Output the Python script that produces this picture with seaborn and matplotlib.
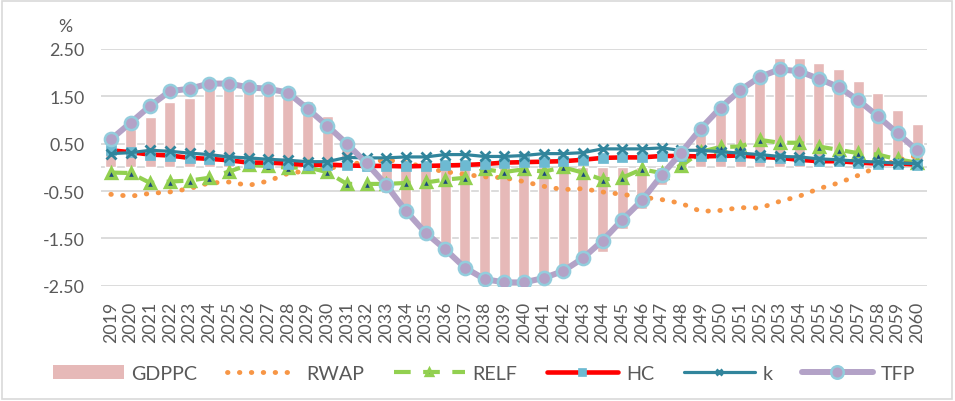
import numpy as np
import pandas as pd
import matplotlib
matplotlib.use("Agg")
import matplotlib.pyplot as plt
from matplotlib.patches import Patch, Rectangle
import seaborn as sns

years = [str(y) for y in range(2019, 2061)]

gdppc = [0.45, 0.80, 1.06, 1.38, 1.46, 1.70, 1.70, 1.62, 1.55, 1.47,
         1.40, 1.08, 0.40, 0.05, -0.55, -0.85, -1.30, -1.65, -2.03, -2.32,
         -2.39, -2.32, -2.28, -2.12, -1.85, -1.78, -1.30, -0.88, -0.38, 0.10,
         0.75, 1.15, 1.55, 1.87, 2.30, 2.32, 2.21, 2.08, 1.82, 1.56,
         1.21, 0.91]
rwap = [-0.57, -0.61, -0.55, -0.52, -0.45, -0.33, -0.31, -0.38, -0.29, -0.13,
        -0.07, -0.03, 0.05, 0.12, 0.15, 0.12, -0.02, -0.09, -0.15, -0.20,
        -0.22, -0.30, -0.40, -0.47, -0.45, -0.52, -0.57, -0.63, -0.68, -0.76,
        -0.93, -0.91, -0.85, -0.86, -0.72, -0.61, -0.45, -0.33, -0.17, 0.01,
        0.15, 0.25]
relf = [-0.11, -0.12, -0.33, -0.30, -0.28, -0.22, -0.09, 0.05, 0.03, -0.01,
        0.00, -0.10, -0.35, -0.35, -0.35, -0.33, -0.32, -0.26, -0.22, -0.04,
        -0.10, -0.04, -0.09, 0.00, -0.11, -0.26, -0.22, -0.04, -0.12, 0.03,
        0.33, 0.43, 0.44, 0.58, 0.52, 0.52, 0.44, 0.37, 0.30, 0.27,
        0.17, 0.10]
hc = [0.36, 0.32, 0.27, 0.25, 0.20, 0.18, 0.15, 0.10, 0.10, 0.08,
      0.05, 0.06, 0.04, 0.03, 0.03, 0.02, 0.03, 0.04, 0.05, 0.07,
      0.10, 0.11, 0.12, 0.13, 0.16, 0.20, 0.21, 0.21, 0.24, 0.24,
      0.23, 0.24, 0.25, 0.22, 0.20, 0.16, 0.13, 0.13, 0.10, 0.08,
      0.08, 0.06]
k = [0.29, 0.31, 0.36, 0.34, 0.30, 0.27, 0.22, 0.20, 0.17, 0.15,
     0.12, 0.12, 0.21, 0.20, 0.20, 0.22, 0.22, 0.27, 0.27, 0.23,
     0.23, 0.25, 0.29, 0.29, 0.31, 0.39, 0.39, 0.39, 0.41, 0.36,
     0.36, 0.33, 0.30, 0.27, 0.23, 0.22, 0.18, 0.16, 0.13, 0.11,
     0.09, 0.08]
tfp = [0.59, 0.94, 1.30, 1.61, 1.66, 1.77, 1.77, 1.69, 1.66, 1.58,
       1.24, 0.88, 0.50, 0.09, -0.37, -0.92, -1.38, -1.73, -2.12, -2.36,
       -2.43, -2.43, -2.34, -2.19, -1.92, -1.55, -1.11, -0.70, -0.17, 0.31,
       0.82, 1.26, 1.63, 1.91, 2.07, 2.03, 1.87, 1.70, 1.42, 1.08,
       0.72, 0.36]

yticks = [-2.5, -1.5, -0.5, 0.5, 1.5, 2.5]

sns.set_theme(style="white")
plt.rcParams["font.family"] = ["Lato", "DejaVu Sans"]
TXT = "#595959"
GRID = "#D9D9D9"

df = pd.DataFrame({"year": years, "pos": np.arange(len(years)),
                   "GDPPC": gdppc, "RWAP": rwap, "RELF": relf,
                   "HC": hc, "k": k, "TFP": tfp})

W, H = 955, 402
fig = plt.figure(figsize=(W / 100, H / 100), dpi=100)
ax = fig.add_axes([101 / W, 1 - 286.7 / H, 826 / W, (286.7 - 50) / H])

sns.barplot(data=df, x="year", y="GDPPC", order=years, color="#E6B9B8",
            saturation=1, width=0.57, ax=ax, zorder=2)

line_specs = [
    ("RWAP", dict(color="#F79646", lw=3.5, linestyle=(0, (0.1, 2.35)),
                  dash_capstyle="round", marker="", markeredgewidth=0,
                  markeredgecolor="none")),
    ("RELF", dict(color="#92D050", lw=3.0, linestyle=(0, (4, 3)),
                  marker="^", markersize=6.5, markerfacecolor="#1F497D",
                  markeredgecolor="#92D050", markeredgewidth=2.4)),
    ("HC", dict(color="#FF0000", lw=3.3, linestyle="-", marker="s",
                markersize=7, markerfacecolor="#6DBAD2",
                markeredgecolor="#6DBAD2", markeredgewidth=0.5)),
    ("k", dict(color="#31859C", lw=2.3, linestyle="-", marker="x",
               markersize=6.5, markeredgecolor="#31859C", markeredgewidth=2.0)),
    ("TFP", dict(color="#B3A2C7", lw=4.3, linestyle="-", marker="o",
                 markersize=9.5, markerfacecolor="#B3A2C7",
                 markeredgecolor="#93CDDD", markeredgewidth=1.8)),
]
legend_marker_sizes = {"RELF": 5, "HC": 6, "k": 4.5, "TFP": 9}

handles = [Patch(facecolor="#E6B9B8", edgecolor="none")]
labels = ["GDPPC"]
for i, (name, kw) in enumerate(line_specs):
    sns.lineplot(data=df, x="pos", y=name, ax=ax, zorder=3 + i,
                 legend=False, **kw)
    handles.append(ax.lines[-1])
    labels.append(name)

if ax.get_legend() is not None:
    ax.get_legend().remove()

ax.set_xlim(-0.5, len(years) - 0.5)
ax.set_ylim(-2.5, 2.5)
ax.set_yticks(yticks)
ax.set_yticklabels([f"{v:.2f}" for v in yticks], fontsize=12.8, color=TXT)
ax.set_xticks(np.arange(len(years)))
ax.set_xticklabels(years, rotation=90, fontsize=12.8, color=TXT)
ax.tick_params(axis="y", length=0, pad=12)
ax.tick_params(axis="x", length=0, pad=11)
ax.set_xlabel("")
ax.set_ylabel("")
for s in ax.spines.values():
    s.set_visible(False)
ax.grid(axis="y", color=GRID, lw=1.3, zorder=0)
ax.grid(axis="x", visible=False)
ax.set_axisbelow(True)
ax.axhline(0, color=GRID, lw=1.3, zorder=1.5)

fig.text(65 / W, 1 - 27 / H, "%", ha="center", va="center",
         fontsize=12.8, color=TXT)

leg = fig.legend(handles, labels, loc="center", ncol=6,
                 bbox_to_anchor=(484 / W, 1 - 374.5 / H), frameon=False,
                 fontsize=14.2, handlelength=3.6, handletextpad=0.4,
                 columnspacing=1.5, borderaxespad=0, numpoints=1)
for t in leg.get_texts():
    t.set_color(TXT)
for h, lab in zip(leg.legend_handles, labels):
    if lab in legend_marker_sizes:
        h.set_markersize(legend_marker_sizes[lab])

fig.patches.append(Rectangle((2 / W, 2 / H), (W - 5) / W, (H - 4) / H,
                             transform=fig.transFigure, fill=False,
                             edgecolor=GRID, lw=1.2))

fig.savefig("out.png", dpi=100)
